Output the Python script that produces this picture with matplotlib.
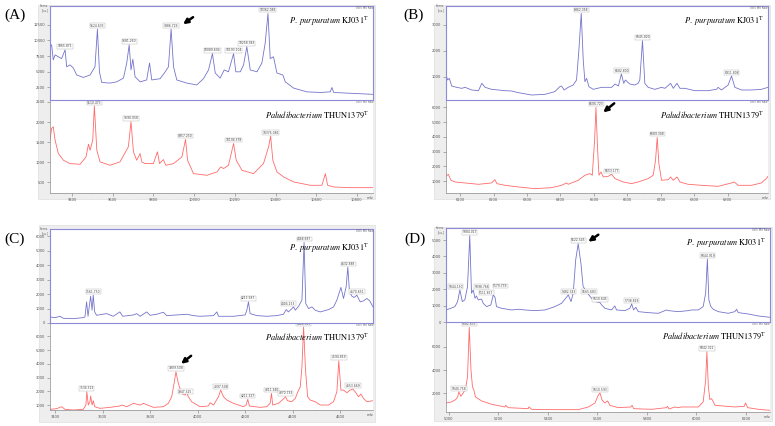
import numpy as np
import matplotlib
matplotlib.use("Agg")
import matplotlib.pyplot as plt
from matplotlib.patches import Rectangle
from matplotlib.transforms import offset_copy

plt.rcParams['font.family'] = 'DejaVu Sans'
plt.rcParams['mathtext.fontset'] = 'stix'

W, H = 775, 426

# ---------------- (A) ----------------
a_top_mz = [9292, 9300, 9308, 9317, 9333, 9349, 9366, 9374, 9390, 9407, 9423, 9456, 9489, 9513, 9525, 9535,
            9546, 9587, 9620, 9653, 9669, 9681, 9690, 9699, 9710, 9735, 9767, 9781, 9792, 9833, 9858, 9874,
            9887, 9899, 9915, 9964, 10013, 10046, 10071, 10090, 10104, 10128, 10148, 10169, 10194, 10205,
            10227, 10243, 10259, 10276, 10309, 10333, 10349, 10363, 10374, 10390, 10407, 10436, 10448, 10489,
            10554, 10620, 10669, 10677, 10686, 10751, 10817, 10879]
a_top_int = [9000, 9300, 6900, 7700, 7400, 7100, 8500, 5800, 6100, 5600, 4500, 4100, 4500, 5800, 11800, 5000,
             3300, 3200, 3400, 4000, 6400, 9300, 5300, 7000, 4200, 3400, 3700, 6400, 3700, 3900, 5000, 5800,
             11800, 5800, 3700, 3200, 2900, 3900, 5300, 7900, 4800, 4000, 5300, 5000, 7900, 5000,
             5000, 6100, 9000, 5300, 5000, 6400, 9500, 14300, 7100, 7400, 4800, 4500, 3400, 2400,
             1800, 1700, 1800, 2500, 1700, 1600, 1500, 1400]
a_top_peaks = [9365.871, 9524.633, 9681.260, 9886.729, 10089.604, 10193.104, 10258.383, 10362.083]

a_bot_mz = [9292, 9300, 9308, 9317, 9333, 9358, 9390, 9440, 9469, 9481, 9489, 9502, 9510, 9522, 9538, 9587,
            9636, 9677, 9690, 9702, 9718, 9735, 9743, 9759, 9800, 9820, 9830, 9849, 9861, 9899, 9940, 9958,
            9968, 9997, 10063, 10112, 10131, 10145, 10169, 10194, 10207, 10235, 10292, 10341, 10366, 10376,
            10387, 10407, 10440, 10489, 10571, 10628, 10645, 10656, 10686, 10768, 10879]
a_bot_int = [1549, 1841, 1882, 1549, 1216, 1049, 966, 949, 1133, 1449, 1299, 1549, 2399, 1299, 1008, 924,
             1008, 1383, 2007, 1258, 1049, 1216, 1008, 966, 966, 1258, 966, 1066, 924, 966, 1133, 1566,
             1049, 716, 674, 758, 883, 841, 924, 1466, 1049, 799, 716, 966, 1383, 1649,
             1049, 758, 633, 508, 425, 425, 716, 425, 383, 366, 366]
a_bot_peaks = [9510.473, 9690.058, 9957.250, 10194.378, 10376.086]

# ---------------- (B) ----------------
b_top_mz = [6058, 6063, 6068, 6075, 6090, 6105, 6115, 6135, 6155, 6165, 6175, 6194, 6214, 6234, 6254, 6274,
            6314, 6354, 6383, 6398, 6403, 6411, 6423, 6438, 6448, 6455, 6462, 6468, 6473, 6478, 6485, 6498,
            6523, 6553, 6563, 6573, 6582, 6589, 6594, 6607, 6622, 6632, 6637, 6645, 6652, 6662, 6682, 6702,
            6712, 6729, 6737, 6748, 6757, 6772, 6801, 6841, 6866, 6871, 6881, 6901, 6911, 6921, 6941, 6971,
            7000, 7020]
b_top_int = [1077, 884, 948, 653, 602, 564, 602, 500, 474, 756, 602, 525, 500, 474, 461, 397,
             307, 333, 436, 628, 653, 500, 602, 692, 884, 2038, 3448, 1653, 820, 948, 628, 525,
             602, 602, 730, 653, 1115, 756, 884, 730, 692, 756, 884, 2397, 756, 602, 525, 602,
             564, 756, 564, 756, 564, 564, 474, 474, 525, 602, 500, 692, 1038, 602, 500, 500,
             525, 602]
b_top_peaks = [6462.358, 6582.800, 6645.820, 6911.808]

b_bot_mz = [6058, 6065, 6073, 6085, 6115, 6155, 6194, 6204, 6210, 6234, 6274, 6324, 6374, 6403, 6418, 6423,
            6453, 6473, 6488, 6495, 6502, 6506, 6511, 6515, 6521, 6528, 6543, 6553, 6563, 6587, 6612, 6632,
            6662, 6677, 6684, 6689, 6694, 6702, 6722, 6729, 6737, 6748, 6757, 6781, 6821, 6871, 6911, 6919,
            6931, 6971, 7000, 7015, 7020]
b_bot_int = [1339, 1475, 1068, 955, 887, 797, 887, 1113, 842, 729, 616, 503, 571, 729, 887, 797,
             1068, 1407, 1520, 1407, 3780, 5995, 3102, 1407, 1633, 1294, 1339, 1475, 1181, 955, 842, 955,
             1181, 1407, 2424, 3961, 2198, 1068, 1113, 1294, 1068, 1294, 955, 797, 729, 661, 887, 955,
             729, 729, 887, 1181, 1339]
b_bot_peaks = [6506.723, 6553.177, 6689.308]

# ---------------- (C) ----------------
c_top_mz = [3379, 3400, 3421, 3435, 3477, 3519, 3526, 3533, 3539, 3544, 3550, 3556, 3561, 3567, 3575, 3617,
            3645, 3673, 3685, 3730, 3744, 3758, 3786, 3800, 3828, 3856, 3870, 3912, 3954, 3982, 4010, 4067,
            4081, 4088, 4151, 4200, 4207, 4214, 4221, 4249, 4291, 4333, 4361, 4373, 4382, 4404, 4411, 4425,
            4439, 4448, 4455, 4467, 4481, 4495, 4516, 4551, 4572, 4586, 4603, 4614, 4625, 4632, 4639, 4649,
            4659, 4670, 4684, 4698, 4712, 4724, 4738]
c_top_int = [419, 372, 465, 326, 302, 372, 419, 1465, 465, 1116, 1861, 884, 1931, 768, 535, 651,
             465, 768, 465, 558, 651, 465, 768, 535, 605, 744, 512, 558, 605, 512, 465, 512,
             768, 465, 465, 558, 884, 1465, 651, 512, 465, 512, 605, 930, 768, 1116, 884, 1163,
             1582, 5582, 1349, 1000, 1116, 884, 768, 930, 1116, 1582, 2466, 1698, 2512, 3861, 2163, 1861,
             1768, 1931, 1465, 1535, 1698, 1535, 1116]
c_top_peaks = [3561.750, 4213.587, 4404.153, 4448.687, 4632.888, 4670.651]

c_bot_mz = [3379, 3407, 3428, 3442, 3477, 3519, 3530, 3534, 3540, 3547, 3550, 3556, 3561, 3567, 3589, 3631,
            3673, 3680, 3702, 3730, 3758, 3772, 3814, 3856, 3877, 3891, 3901, 3909, 3919, 3933, 3947, 3954,
            3961, 3975, 4010, 4045, 4053, 4067, 4088, 4097, 4109, 4123, 4151, 4193, 4204, 4211, 4218, 4263,
            4291, 4305, 4311, 4316, 4340, 4361, 4370, 4378, 4396, 4411, 4422, 4432, 4439, 4446, 4454, 4463,
            4474, 4495, 4516, 4551, 4572, 4586, 4594, 4603, 4614, 4628, 4642, 4653, 4663, 4677, 4687, 4698,
            4712, 4738]
c_bot_int = [686, 734, 879, 686, 638, 686, 1000, 1966, 1000, 1242, 1652, 1000, 1314, 879, 758, 831,
             928, 1000, 879, 1121, 1000, 1121, 831, 879, 1121, 1604, 2570, 3415, 2570, 1845, 1725, 1894,
             1604, 1242, 879, 928, 1169, 1000, 1604, 2087, 1604, 1362, 1121, 879, 1000, 1411, 928, 831,
             879, 1121, 1845, 1000, 1121, 1435, 1604, 1314, 1242, 1483, 1966, 2328, 3777, 6675, 3536, 1604,
             1362, 1242, 1000, 1000, 1242, 1966, 4212, 2087, 2087, 1894, 2087, 2159, 1966, 1604, 1797, 1483,
             1242, 1314]
c_bot_peaks = [3534.313, 3909.508, 3947.325, 4097.508, 4211.327, 4311.340, 4370.733, 4446.687, 4594.859,
               4653.669]

# ---------------- (D) ----------------
d_top_mz = [4988, 5004, 5024, 5035, 5044, 5054, 5064, 5075, 5084, 5091, 5098, 5105, 5111, 5118, 5126, 5132,
            5138, 5152, 5169, 5179, 5186, 5192, 5212, 5253, 5280, 5307, 5347, 5388, 5428, 5455, 5475, 5482,
            5493, 5502, 5512, 5522, 5533, 5542, 5556, 5565, 5576, 5590, 5610, 5617, 5630, 5657, 5670, 5677,
            5711, 5731, 5738, 5746, 5755, 5765, 5805, 5846, 5879, 5886, 5926, 5967, 5980, 6007, 6027, 6037,
            6044, 6050, 6058, 6068, 6088, 6128, 6155, 6162, 6169, 6209, 6250, 6297]
d_top_int = [734, 816, 938, 1244, 1958, 1244, 1346, 2162, 5263, 1754, 1958, 1448, 1591, 1346, 1387, 1387,
             1142, 938, 1040, 1652, 1510, 938, 836, 734, 775, 734, 694, 734, 938, 1142, 1510, 1652,
             1244, 1754, 3794, 4774, 3590, 2162, 1856, 1652, 1448, 1244, 1183, 1040, 836, 734, 979, 734,
             694, 836, 1102, 734, 898, 632, 571, 530, 734, 694, 632, 694, 734, 734, 938, 1754,
             3835, 1346, 938, 775, 632, 530, 632, 775, 571, 490, 367, 286]
d_top_peaks = [5044.130, 5084.017, 5098.766, 5111.857, 5179.739, 5482.343, 5522.545, 5565.683, 5610.645,
               5738.829, 6044.919]

d_bot_mz = [4988, 5010, 5027, 5035, 5040, 5048, 5058, 5067, 5075, 5082, 5089, 5095, 5101, 5107, 5132, 5172,
            5226, 5229, 5239, 5320, 5323, 5334, 5415, 5522, 5563, 5590, 5603, 5610, 5619, 5630, 5641, 5650,
            5684, 5735, 5740, 5746, 5819, 5879, 5883, 5889, 5913, 5926, 5940, 6007, 6027, 6037, 6042, 6048,
            6054, 6061, 6075, 6155, 6193, 6198, 6207, 6250, 6297]
d_bot_int = [1165, 1251, 1453, 1683, 2115, 1741, 2029, 2403, 3411, 7674, 3987, 2547, 2259, 1683, 1338, 1050,
             819, 963, 762, 675, 819, 618, 589, 589, 819, 1165, 1827, 2029, 1395, 1165, 1338, 963,
             762, 819, 963, 675, 618, 762, 877, 646, 819, 762, 819, 819, 1251, 3123, 5571, 2547,
             1453, 1539, 963, 819, 877, 1165, 762, 618, 531]
d_bot_peaks = [5040.758, 5082.633, 5610.593, 6042.321]

top_name = r'$\it{P.\ purpuratum}$ KJ031$^{\rm T}$'
bot_name = r'$\it{Paludibacterium}$ THUN1379$^{\rm T}$'

BLUE = '#7474cc'
RED = '#ff6a6a'
FRAME = '#8a8ad8'

fig = plt.figure(figsize=(W / 100, H / 100), dpi=100)


def px_rect(x0, y0, x1, y1):
    return [x0 / W, 1 - y1 / H, (x1 - x0) / W, (y1 - y0) / H]


def style_axis(ax, xlim, ylim, yticks, xticks, show_x):
    ax.set_xlim(*xlim)
    ax.set_ylim(*ylim)
    ax.set_yticks(yticks)
    ax.set_xticks(xticks)
    ax.set_xticks([t + (xticks[1] - xticks[0]) / 2 for t in xticks[:-1]], minor=True)
    ax.tick_params(axis='both', which='major', length=2, width=0.4, color='#777777',
                   labelsize=2.6, labelcolor='#555555', pad=1.5)
    ax.tick_params(axis='both', which='minor', length=1, width=0.3, color='#999999')
    ax.tick_params(axis='y', which='minor', left=False)
    if not show_x:
        ax.tick_params(axis='x', which='both', bottom=False, labelbottom=False)


def peak_labels(ax, mz, inten, peaks, shifts):
    mz = np.asarray(mz)
    inten = np.asarray(inten)
    for p in peaks:
        win = np.abs(mz - p) <= 6
        y = inten[win].max() if win.any() else np.interp(p, mz, inten)
        dx, dy = shifts.get(p, (0, 0))
        ax.annotate(f"{p:.3f}", xy=(p, y), xytext=(dx, 1.0 + dy), textcoords='offset points',
                    ha='center', va='bottom', fontsize=2.2, color='#444444',
                    bbox=dict(boxstyle='square,pad=0.12', fc='white', ec='#b0b0b0', lw=0.3))


def draw_arrow(ax, x, y, head, tail):
    th = offset_copy(ax.transData, fig=fig, x=head[0], y=head[1], units='dots')
    tt = offset_copy(ax.transData, fig=fig, x=tail[0], y=tail[1], units='dots')
    ax.annotate('', xy=(x, y), xycoords=th, xytext=(x, y), textcoords=tt,
                arrowprops=dict(arrowstyle='-|>', color='black', lw=1.8, mutation_scale=7,
                                shrinkA=0, shrinkB=0))


def name_text(ax, s, y=0.84):
    ax.text(0.987, y, s, transform=ax.transAxes, ha='right', va='center', fontsize=6.0,
            family='STIXGeneral')


def panel(letter, letter_xy, grey, top_box, bot_box, xlim, xticks,
          top, bot, top_ylim, bot_ylim, top_yt, bot_yt, arrow=None, top_shifts={}, bot_shifts={},
          top_name_y=0.84):
    fig.patches.append(Rectangle((grey[0] / W, 1 - grey[3] / H), (grey[2] - grey[0]) / W,
                                 (grey[3] - grey[1]) / H, transform=fig.transFigure,
                                 facecolor='#eeeeee', edgecolor='#d8d8d8', lw=0.4, zorder=-10))
    fig.text(letter_xy[0] / W, 1 - letter_xy[1] / H, letter, fontsize=11, family='Liberation Serif',
             ha='center', va='center')

    ax_b = fig.add_axes(px_rect(*bot_box))
    ax_b.plot(bot[0], bot[1], color=RED, lw=0.6)
    style_axis(ax_b, xlim, bot_ylim, bot_yt, xticks, True)
    for s in ('top', 'right'):
        ax_b.spines[s].set_visible(False)
    for s in ('left', 'bottom'):
        ax_b.spines[s].set_color('#8c8c8c')
        ax_b.spines[s].set_linewidth(0.5)
    name_text(ax_b, bot_name)
    ax_b.text(1.0, 1.0, '0:E5 MS Raw', transform=ax_b.transAxes, ha='right', va='top',
              fontsize=2.0, color='#666666')
    ax_b.text(0.99, -0.035, 'm/z', transform=ax_b.transAxes, ha='center', va='top',
              fontsize=2.6, color='#555555')
    peak_labels(ax_b, bot[0], bot[1], bot[2], bot_shifts)

    ax_t = fig.add_axes(px_rect(*top_box))
    ax_t.plot(top[0], top[1], color=BLUE, lw=0.6)
    style_axis(ax_t, xlim, top_ylim, top_yt, xticks, False)
    for s in ax_t.spines.values():
        s.set_color(FRAME)
        s.set_linewidth(0.8)
    name_text(ax_t, top_name, top_name_y)
    ax_t.text(1.0, 0.995, '0:E5 MS Raw', transform=ax_t.transAxes, ha='right', va='top',
              fontsize=2.0, color='#666666')
    ax_t.text(-0.005, 1.02, 'Intens.\n[a.u.]', transform=ax_t.transAxes, ha='right', va='top',
              fontsize=1.9, color='#555555', linespacing=0.95)
    peak_labels(ax_t, top[0], top[1], top[2], top_shifts)

    if arrow is not None:
        which, p, head, tail = arrow
        ax = ax_t if which == 'top' else ax_b
        d = top if which == 'top' else bot
        mz = np.asarray(d[0])
        y = np.asarray(d[1])[np.abs(mz - p) <= 6].max()
        draw_arrow(ax, p, y, head, tail)


panel('(A)', (15, 15), (38, 5, 375, 199), (50, 6, 373, 100), (50, 100, 373, 193),
      (9292, 10879), list(range(9400, 10801, 200)),
      (a_top_mz, a_top_int, a_top_peaks), (a_bot_mz, a_bot_int, a_bot_peaks),
      (500, 15500), (233, 2549), [2500, 5000, 7500, 10000, 12500], [500, 1000, 1500, 2000, 2500],
      arrow=('top', 9886.729, (12, 5), (22, 12)))

panel('(B)', (414, 15), (434, 5, 770, 199), (446, 6, 768, 100), (446, 100, 768, 193),
      (6058, 7020), list(range(6100, 6901, 100)),
      (b_top_mz, b_top_int, b_top_peaks), (b_bot_mz, b_bot_int, b_bot_peaks),
      (115, 3730), (209, 6492), [1000, 2000, 3000], [1000, 2000, 3000, 4000, 5000, 6000],
      arrow=('bot', 6506.723, (7, -5), (18, 4)))

panel('(C)', (15, 239), (39, 225, 375, 422), (50, 229, 373, 323), (50, 323, 373, 410),
      (3379, 4738), list(range(3400, 4601, 200)),
      (c_top_mz, c_top_int, c_top_peaks), (c_bot_mz, c_bot_int, c_bot_peaks),
      (0, 6512), (638, 6965), [0, 1000, 2000, 3000, 4000, 5000, 6000], [1000, 2000, 3000, 4000, 5000, 6000],
      arrow=('bot', 3909.508, (5, 8), (15, 16)),
      top_shifts={4404.153: (-4, 0)}, top_name_y=0.79)

panel('(D)', (415, 239), (434, 227, 772, 421), (446, 228, 770, 322), (446, 322, 770, 412),
      (4988, 6297), list(range(5000, 6201, 200)),
      (d_top_mz, d_top_int, d_top_peaks), (d_bot_mz, d_bot_int, d_bot_peaks),
      (0, 5732), (387, 8134), [0, 1000, 2000, 3000, 4000, 5000], [2000, 4000, 6000],
      arrow=('top', 5522.545, (10, 2), (20, 9)),
      top_shifts={5044.130: (-3, 0), 5098.766: (6, 0), 5111.857: (7, 0), 5179.739: (5, 4)})

fig.savefig('out.png', dpi=100)
